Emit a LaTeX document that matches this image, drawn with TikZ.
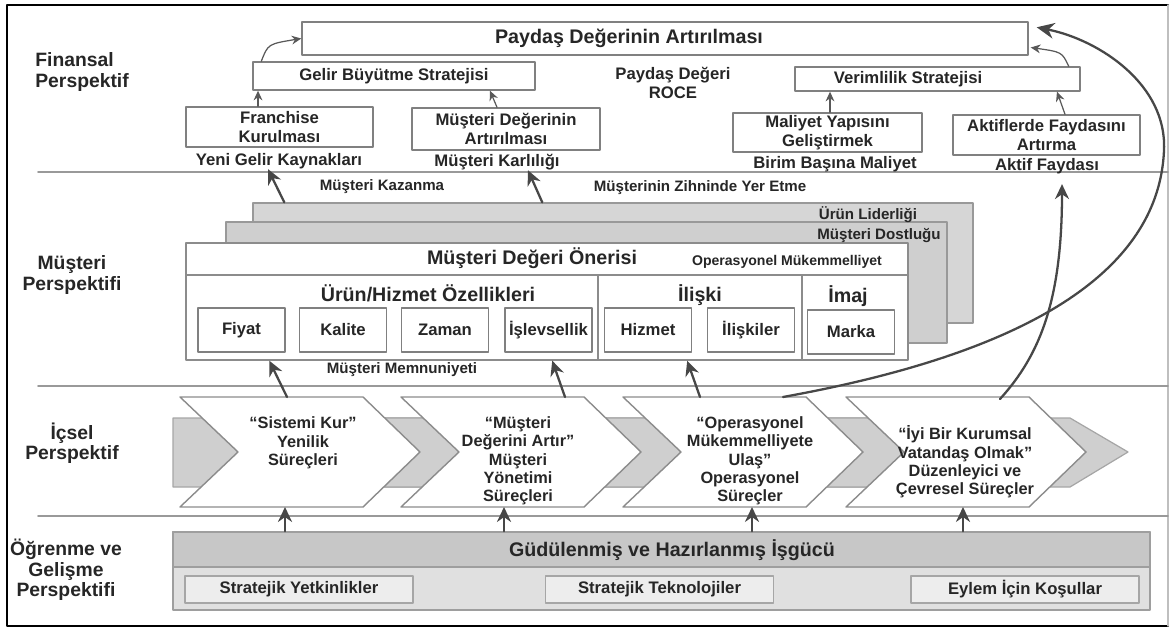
\documentclass[tikz,border=0pt]{standalone}
\usepackage{fontspec}
\setmainfont{Liberation Sans}
\usetikzlibrary{arrows.meta}

\begin{document}
\begin{tikzpicture}[x=0.02cm, y=-0.02cm, line join=round, line cap=round,
    yazi/.style={font=\bfseries\fontsize{9.5}{10.6}\selectfont, text=black!85, align=center, inner sep=0pt},
    kucukyazi/.style={yazi, font=\bfseries\fontsize{8.6}{10}\selectfont},
    baslik/.style={yazi, font=\bfseries\fontsize{11.2}{12.5}\selectfont},
    etiket/.style={yazi, font=\bfseries\fontsize{11}{11.6}\selectfont},
    surec/.style={yazi, font=\bfseries\fontsize{9.3}{10.4}\selectfont},
    boyut/.style 2 args={minimum width=#1*0.02cm, minimum height=#2*0.02cm},
    kutu/.style={draw=black!50, line width=0.8pt, fill=white, inner sep=0pt},
    kucukkutu/.style={kutu, line width=1pt, boyut={87}{44}, yazi},
    kart/.style={draw=black!40, line width=0.8pt, fill=black!16, inner sep=0pt},
    altkutu/.style={draw=black!35, line width=0.8pt, fill=black!7, boyut={228}{27}, yazi},
    ayrac/.style={draw=black!40, line width=1pt},
    ok/.style={draw=black!72, line width=1.3pt, -{Stealth[length=8.5pt, width=8pt]}},
    inceok/.style={draw=black!65, line width=0.7pt, -{Stealth[length=5.5pt, width=5pt]}}]
  \useasboundingbox (0,0) rectangle (1172,631);
  % cerceve ve ayraclar
  \draw[line width=1.4pt] (1168,5) -- (7,5) -- (7,626) -- (1168,626);
  \draw[black!25, line width=0.6pt] (1168,5) -- (1168,626);
  \draw[ayrac] (38,172) -- (1168,172);
  \draw[ayrac] (38,386) -- (1168,386);
  \draw[ayrac] (38,516) -- (1168,516);
  % perspektifler
  \node[etiket, align=left, anchor=west] (finP) at (35,72) {Finansal\\Perspektif};
  \node[etiket] (musP) at (72,275) {Müşteri\\Perspektifi};
  \node[etiket] (icsP) at (72,443) {İçsel\\Perspektif};
  \node[etiket] (ogrP) at (66,570) {Öğrenme ve\\Gelişme\\Perspektifi};
  % finansal perspektif
  \node[kutu, boyut={726}{33}] (paydas) at (665,38.5) {};
  \node[baslik] (paydasY) at (629,38.5) {Paydaş Değerinin Artırılması};
  \node[kutu, boyut={282}{28}, yazi] (gelir) at (394,76) {Gelir Büyütme Stratejisi};
  \node[yazi, font=\bfseries\fontsize{9.5}{11.3}\selectfont] (roce) at (673,83) {Paydaş Değeri\\ROCE};
  \node[kutu, boyut={285}{24}] (verim) at (937.5,79) {};
  \node[yazi] (verimY) at (908,79) {Verimlilik Stratejisi};
  \node[kutu, boyut={187}{40}, yazi] (franchise) at (279.5,127) {Franchise\\Kurulması};
  \node[yazi] (yeniGelir) at (279,161) {Yeni Gelir Kaynakları};
  \node[kutu, boyut={188}{42}, yazi] (mda) at (506,129) {Müşteri Değerinin\\Artırılması};
  \node[yazi] (karli) at (497,162) {Müşteri Karlılığı};
  \node[kutu, boyut={189}{39}, yazi] (maliyet) at (827.5,132.5) {Maliyet Yapısını\\Geliştirmek};
  \node[yazi] (birim) at (835,164) {Birim Başına Maliyet};
  \node[kutu, boyut={187}{40}, yazi] (aktif) at (1046.5,135) {Aktiflerde Faydasını\\Artırma};
  \node[yazi] (aktifF) at (1047,166) {Aktif Faydası};
  % musteri perspektifi
  \node[kucukyazi] (kazanma) at (382,187) {Müşteri Kazanma};
  \node[kucukyazi] (zihin) at (700,188) {Müşterinin Zihninde Yer Etme};
  \node[kart, boyut={720}{120}] (urunLid) at (613,263) {};
  \node[kart, fill=black!19, boyut={721}{121}] (musDost) at (586.5,282.5) {};
  \node[kutu, draw=black!45, boyut={722}{117}] (oneri) at (547,301.5) {};
  \node[kucukyazi] (urunLidY) at (868,215) {Ürün Liderliği};
  \node[kucukyazi] (musDostY) at (879,236) {Müşteri Dostluğu};
  \draw[black!45, line width=0.8pt] (186,275) -- (908,275);
  \draw[black!45, line width=0.8pt] (598,275) -- (598,360) (802,275) -- (802,360);
  \node[baslik] (oneriY) at (532,258) {Müşteri Değeri Önerisi};
  \node[kucukyazi, font=\bfseries\fontsize{8}{9}\selectfont] (opMuk) at (787,262) {Operasyonel Mükemmelliyet};
  \node[baslik] (urunHiz) at (428,293) {Ürün/Hizmet Özellikleri};
  \node[baslik] (iliski) at (700,295) {İlişki};
  \node[baslik] (imaj) at (848,296) {İmaj};
  \node[kucukkutu] (fiyat) at (241.5,330) {Fiyat};
  \node[kucukkutu] (kalite) at (343,330) {Kalite};
  \node[kucukkutu] (zaman) at (445,330) {Zaman};
  \node[kucukkutu] (islev) at (548.5,330) {İşlevsellik};
  \node[kucukkutu] (hizmet) at (648,330) {Hizmet};
  \node[kucukkutu] (iliskiler) at (751,330) {İlişkiler};
  \node[kucukkutu] (marka) at (851,332) {Marka};
  \node[kucukyazi] (memnun) at (402,370) {Müşteri Memnuniyeti};
  % icsel perspektif
  \foreach \x/\sol/\kose in {180/173/424, 401/371/645, 623/593/867, 846/816/1070}
    \filldraw[fill=black!19, draw=black!35, line width=0.7pt]
      (\sol,418) -- (\kose,418) -- (\kose+58,452) -- (\kose,487) -- (\sol,487) -- cycle;
  \foreach \x in {180,401,623,846}
    \filldraw[fill=white, draw=black!45, line width=0.8pt]
      (\x,397) -- (\x+183,397) -- (\x+240,452) -- (\x+183,507) -- (\x,507) -- (\x+58,452) -- cycle;
  \node[surec] (sistem) at (303,443) {“Sistemi Kur”\\Yenilik\\Süreçleri};
  \node[surec] (deger) at (518,461) {“Müşteri\\Değerini Artır”\\Müşteri\\Yönetimi\\Süreçleri};
  \node[surec] (oper) at (750,461) {“Operasyonel\\Mükemmelliyete\\Ulaş”\\Operasyonel\\Süreçler};
  \node[surec] (iyi) at (965,462) {“İyi Bir Kurumsal\\Vatandaş Olmak”\\Düzenleyici ve\\Çevresel Süreçler};
  \coordinate (sistemUst) at (287,397);
  \coordinate (degerUst) at (565,397);
  \coordinate (operUst) at (700,397);
  \coordinate (operUst2) at (783,397);
  \coordinate (iyiUst) at (1000,399);
  \coordinate (sistemAlt) at (285,507);
  \coordinate (degerAlt) at (504,507);
  \coordinate (operAlt) at (752,507);
  \coordinate (iyiAlt) at (963,507);
  % ogrenme ve gelisme
  \node[kart, fill=black!12, draw=black!38, boyut={977}{78}] (gudu) at (661.5,571) {};
  \filldraw[fill=black!22, draw=black!38, line width=0.8pt] (173,532) rectangle (1150,567);
  \node[baslik] (guduY) at (672,550) {Güdülenmiş ve Hazırlanmış İşgücü};
  \node[altkutu] (yetk) at (299,589.5) {Stratejik Yetkinlikler};
  \node[altkutu] (tekn) at (659.5,589.5) {Stratejik Teknolojiler};
  \node[altkutu] (eylem) at (1025,589.5) {Eylem İçin Koşullar};
  % oklar
  \draw[inceok] ([xshift=-0.43cm]franchise.north) -- ([xshift=-0.43cm]franchise.north |- gelir.south);
  \draw[inceok] ([xshift=-0.18cm]mda.north) -- ([xshift=1.92cm]gelir.south);
  \draw[inceok] ([xshift=0.18cm]gelir.north west) .. controls (268,44) .. (paydas.west);
  \draw[inceok] ([xshift=0.05cm]maliyet.north) -- ([xshift=0.05cm]maliyet.north |- verim.south);
  \draw[inceok] ([xshift=0.37cm]aktif.north) -- ([xshift=2.39cm]verim.south);
  \draw[inceok] ([xshift=-0.24cm]verim.north east) .. controls (1062,52) .. ([xshift=0.04cm, yshift=-0.18cm]paydas.east);
  \draw[ok] ([xshift=0.64cm]urunLid.north west) -- ([xshift=-0.22cm]yeniGelir.south);
  \draw[ok] ([xshift=5.8cm]urunLid.north west) -- ([xshift=0.62cm]karli.south);
  \draw[ok] (sistemUst) -- ([xshift=1.68cm]oneri.south west);
  \draw[ok] (degerUst) -- ([xshift=7.34cm]oneri.south west);
  \draw[ok] (operUst) -- ([xshift=10.04cm]oneri.south west);
  \draw[ok, -{Stealth[length=10pt, width=9pt]}] (operUst2) .. controls (960,365) and (1158,300) .. (1164,150)
    .. controls (1167,85) and (1100,40) .. ([xshift=0.16cm, yshift=-0.12cm]paydas.north east);
  \draw[ok] (iyiUst) .. controls (1040,355) and (1062,300) .. ([xshift=0.3cm, yshift=-0.2cm]aktifF.south);
  \foreach \n in {sistemAlt, degerAlt, operAlt, iyiAlt}
    \draw[ok] (gudu.north -| \n) -- (\n);
\end{tikzpicture}
\end{document}
